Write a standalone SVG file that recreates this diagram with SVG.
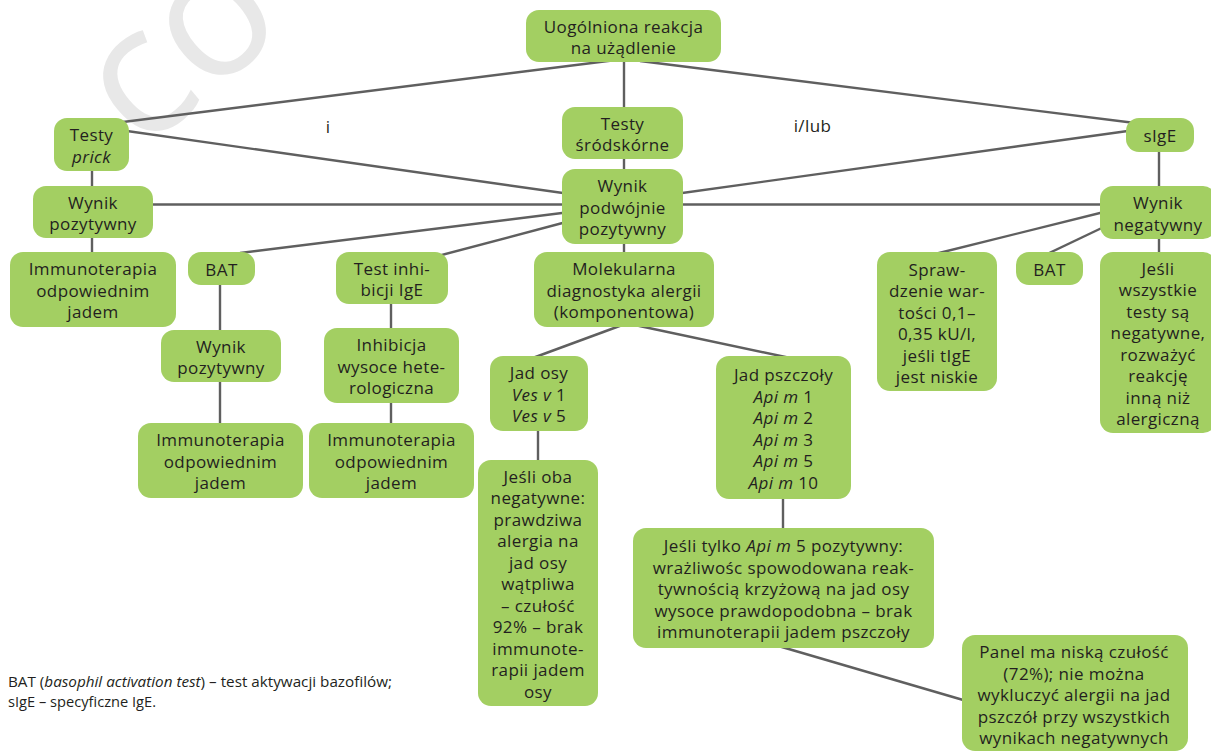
<svg xmlns="http://www.w3.org/2000/svg" width="1211" height="751" viewBox="0 0 1211 751">
<style>
.box{fill:#a3cf62;}
.t{font-family:"Open Sans","Noto Sans",sans-serif;font-size:17px;letter-spacing:0.4px;fill:#231f20;text-anchor:middle;}
.lbl{font-family:"Open Sans","Noto Sans",sans-serif;font-size:17px;letter-spacing:0.4px;fill:#231f20;text-anchor:middle;}
.leg{font-family:"Open Sans","Noto Sans",sans-serif;font-size:15px;fill:#231f20;}
.c{stroke:#5f5f5f;stroke-width:2.4;fill:none;}
.wm{font-family:"Open Sans","Noto Sans",sans-serif;font-size:180px;fill:#e8e8e8;}
</style>
<rect width="1211" height="751" fill="#ffffff"/>
<text class="wm" transform="translate(141,153) rotate(-40)">co</text>

<g id="connectors">
<line class="c" x1="610" y1="60.7" x2="115" y2="123"/>
<line class="c" x1="624" y1="50" x2="624" y2="110"/>
<line class="c" x1="640" y1="61" x2="1135" y2="123"/>
<line class="c" x1="120" y1="130" x2="570" y2="194"/>
<line class="c" x1="1135" y1="130" x2="675" y2="194"/>
<line class="c" x1="92" y1="165" x2="92" y2="190"/>
<line class="c" x1="624" y1="155" x2="624" y2="172"/>
<line class="c" x1="145" y1="204.5" x2="570" y2="204.5"/>
<line class="c" x1="675" y1="204.5" x2="1108" y2="204.5"/>
<line class="c" x1="1159" y1="148" x2="1159" y2="190"/>
<line class="c" x1="92" y1="234" x2="92" y2="256"/>
<line class="c" x1="570" y1="212" x2="240" y2="253"/>
<line class="c" x1="570" y1="221" x2="438" y2="256"/>
<line class="c" x1="624" y1="240" x2="624" y2="256"/>
<line class="c" x1="220" y1="280" x2="220" y2="334"/>
<line class="c" x1="220" y1="378" x2="220" y2="427"/>
<line class="c" x1="391" y1="300" x2="391" y2="332"/>
<line class="c" x1="391" y1="399" x2="391" y2="427"/>
<line class="c" x1="625" y1="324" x2="530" y2="359"/>
<line class="c" x1="630" y1="324" x2="795" y2="359"/>
<line class="c" x1="538" y1="427" x2="538" y2="464"/>
<line class="c" x1="783" y1="495" x2="783" y2="532"/>
<line class="c" x1="775" y1="645" x2="970" y2="702"/>
<line class="c" x1="1108" y1="211" x2="935" y2="254"/>
<line class="c" x1="1108" y1="225" x2="1045" y2="255"/>
<line class="c" x1="1159" y1="235" x2="1159" y2="256"/>
</g>

<g id="n-top"><rect class="box" x="526" y="10" width="195" height="52" rx="13"/>
<text class="t" x="623.5" y="32.5">Uogólniona reakcja</text><text class="t" x="623.5" y="54">na użądlenie</text></g>

<g id="n-prick"><rect class="box" x="54" y="118" width="75" height="53" rx="13"/>
<text class="t" x="91.5" y="141">Testy</text><text class="t" x="91.5" y="162.5" font-style="italic">prick</text></g>

<g id="n-srod"><rect class="box" x="562" y="107" width="121" height="52" rx="13"/>
<text class="t" x="622.5" y="129.5">Testy</text><text class="t" x="622.5" y="151">śródskórne</text></g>

<g id="n-sige"><rect class="box" x="1126" y="118" width="68" height="34" rx="13"/>
<text class="t" x="1160" y="141.8">sIgE</text></g>

<g id="n-wpl"><rect class="box" x="33" y="186" width="120" height="52" rx="13"/>
<text class="t" x="93" y="208.5">Wynik</text><text class="t" x="93" y="230">pozytywny</text></g>

<g id="n-wpp"><rect class="box" x="562" y="169" width="121" height="75" rx="13"/>
<text class="t" x="622.5" y="192.3">Wynik</text><text class="t" x="622.5" y="213.8">podwójnie</text><text class="t" x="622.5" y="235.3">pozytywny</text></g>

<g id="n-wneg"><rect class="box" x="1100" y="186" width="116" height="53" rx="13"/>
<text class="t" x="1158" y="209">Wynik</text><text class="t" x="1158" y="230.5">negatywny</text></g>

<g id="n-imm1"><rect class="box" x="10" y="252" width="166" height="75" rx="13"/>
<text class="t" x="93" y="275.3">Immunoterapia</text><text class="t" x="93" y="296.8">odpowiednim</text><text class="t" x="93" y="318.3">jadem</text></g>

<g id="n-bat1"><rect class="box" x="188" y="252" width="67" height="33" rx="13"/>
<text class="t" x="221.5" y="275.5">BAT</text></g>

<g id="n-tinh"><rect class="box" x="336" y="252" width="112" height="52" rx="13"/>
<text class="t" x="392" y="274.5">Test inhi-</text><text class="t" x="392" y="296">bicji IgE</text></g>

<g id="n-mol"><rect class="box" x="534" y="252" width="180" height="75" rx="13"/>
<text class="t" x="624" y="275.3">Molekularna</text><text class="t" x="624" y="296.8">diagnostyka alergii</text><text class="t" x="624" y="318.3">(komponentowa)</text></g>

<g id="n-spraw"><rect class="box" x="877" y="252" width="120" height="139" rx="13"/>
<text class="t" x="937" y="275.5">Spraw-</text><text class="t" x="937" y="297">dzenie war-</text><text class="t" x="937" y="318.5">tości 0,1–</text><text class="t" x="937" y="340">0,35 kU/l,</text><text class="t" x="937" y="361.5">jeśli tIgE</text><text class="t" x="937" y="383">jest niskie</text></g>

<g id="n-bat2"><rect class="box" x="1016" y="252" width="67" height="33" rx="13"/>
<text class="t" x="1049.5" y="275.5">BAT</text></g>

<g id="n-jwsz"><rect class="box" x="1100" y="252" width="116" height="181" rx="13"/>
<text class="t" x="1158" y="274.5">Jeśli</text><text class="t" x="1158" y="296">wszystkie</text><text class="t" x="1158" y="317.5">testy są</text><text class="t" x="1158" y="339">negatywne,</text><text class="t" x="1158" y="360.5">rozważyć</text><text class="t" x="1158" y="382">reakcję</text><text class="t" x="1158" y="403.5">inną niż</text><text class="t" x="1158" y="425">alergiczną</text></g>

<g id="n-wp2"><rect class="box" x="161" y="330" width="120" height="52" rx="13"/>
<text class="t" x="221" y="352.5">Wynik</text><text class="t" x="221" y="374">pozytywny</text></g>

<g id="n-imm2"><rect class="box" x="138" y="423" width="165" height="75" rx="13"/>
<text class="t" x="220.5" y="446.3">Immunoterapia</text><text class="t" x="220.5" y="467.8">odpowiednim</text><text class="t" x="220.5" y="489.3">jadem</text></g>

<g id="n-inhib"><rect class="box" x="324" y="328" width="135" height="75" rx="13"/>
<text class="t" x="391.5" y="351.3">Inhibicja</text><text class="t" x="391.5" y="372.8">wysoce hete-</text><text class="t" x="391.5" y="394.3">rologiczna</text></g>

<g id="n-imm3"><rect class="box" x="309" y="423" width="165" height="75" rx="13"/>
<text class="t" x="391.5" y="446.3">Immunoterapia</text><text class="t" x="391.5" y="467.8">odpowiednim</text><text class="t" x="391.5" y="489.3">jadem</text></g>

<g id="n-jadosy"><rect class="box" x="490" y="356" width="98" height="75" rx="13"/>
<text class="t" x="539" y="379.3">Jad osy</text>
<text class="t" x="539" y="400.8"><tspan font-style="italic">Ves v</tspan> 1</text>
<text class="t" x="539" y="422.3"><tspan font-style="italic">Ves v</tspan> 5</text></g>

<g id="n-jeslioba"><rect class="box" x="478" y="460" width="120" height="246" rx="13"/>
<text class="t" x="538" y="482.8">Jeśli oba</text><text class="t" x="538" y="504.3">negatywne:</text><text class="t" x="538" y="525.8">prawdziwa</text><text class="t" x="538" y="547.3">alergia na</text><text class="t" x="538" y="568.8">jad osy</text><text class="t" x="538" y="590.3">wątpliwa</text><text class="t" x="538" y="611.8">– czułość</text><text class="t" x="538" y="633.3">92% – brak</text><text class="t" x="538" y="654.8">immunote-</text><text class="t" x="538" y="676.3">rapii jadem</text><text class="t" x="538" y="697.8">osy</text></g>

<g id="n-jadpsz"><rect class="box" x="716" y="356" width="135" height="143" rx="13"/>
<text class="t" x="783.5" y="381">Jad pszczoły</text>
<text class="t" x="783.5" y="402.5"><tspan font-style="italic">Api m</tspan> 1</text>
<text class="t" x="783.5" y="424"><tspan font-style="italic">Api m</tspan> 2</text>
<text class="t" x="783.5" y="445.5"><tspan font-style="italic">Api m</tspan> 3</text>
<text class="t" x="783.5" y="467"><tspan font-style="italic">Api m</tspan> 5</text>
<text class="t" x="783.5" y="488.5"><tspan font-style="italic">Api m</tspan> 10</text></g>

<g id="n-jtylko"><rect class="box" x="633" y="528" width="301" height="120" rx="13"/>
<text class="t" x="783.5" y="552.3">Jeśli tylko <tspan font-style="italic">Api m</tspan> 5 pozytywny:</text>
<text class="t" x="783.5" y="573.8">wrażliwośc spowodowana reak-</text>
<text class="t" x="783.5" y="595.3">tywnością krzyżową na jad osy</text>
<text class="t" x="783.5" y="616.8">wysoce prawdopodobna – brak</text>
<text class="t" x="783.5" y="638.3">immunoterapii jadem pszczoły</text></g>

<g id="n-panel"><rect class="box" x="962" y="635" width="226" height="116" rx="13"/>
<text class="t" x="1074" y="658">Panel ma niską czułość</text>
<text class="t" x="1074" y="679.5">(72%); nie można</text>
<text class="t" x="1074" y="701">wykluczyć alergii na jad</text>
<text class="t" x="1074" y="722.5">pszczół przy wszystkich</text>
<text class="t" x="1074" y="744">wynikach negatywnych</text></g>

<g id="labels">
<text class="lbl" x="328" y="133">i</text>
<text class="lbl" x="812.5" y="132">i/lub</text>
</g>

<g id="legend">
<text class="leg" x="8" y="687" textLength="384" lengthAdjust="spacingAndGlyphs">BAT (<tspan font-style="italic">basophil activation test</tspan>) – test aktywacji bazofilów;</text>
<text class="leg" x="8" y="707" textLength="148" lengthAdjust="spacingAndGlyphs">sIgE – specyficzne IgE.</text>
</g>
</svg>
